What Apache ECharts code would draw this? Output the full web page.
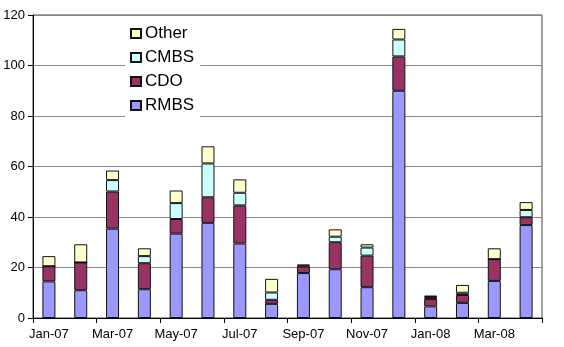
<!DOCTYPE html>
<html>
<head>
<meta charset="utf-8">
<script src="https://cdn.jsdelivr.net/npm/echarts@6/dist/echarts.min.js"></script>
<style>
html,body{margin:0;padding:0;background:#fff;}
#chart{width:564px;height:347px;}
</style>
</head>
<body>
<div id="chart"></div>
<script>
const categories = ['Jan-07','Feb-07','Mar-07','Apr-07','May-07','Jun-07','Jul-07','Aug-07','Sep-07','Oct-07','Nov-07','Dec-07','Jan-08','Feb-08','Mar-08','Apr-08'];
const rmbs  = [14.5, 11.0, 35.4, 11.4, 33.4, 37.7, 29.5, 5.6, 17.8, 19.3, 12.2, 90.0, 4.6, 6.0, 14.7, 36.8];
const cdo   = [6.0, 11.0, 14.7, 10.3, 5.8, 10.1, 15.1, 1.6, 2.6, 10.7, 12.5, 13.6, 2.9, 3.1, 8.6, 3.1];
const cmbs  = [0, 0, 4.5, 2.8, 6.3, 13.4, 5.0, 2.9, 0.3, 2.2, 3.2, 6.7, 0.8, 0.9, 0, 2.9];
const other = [4.0, 7.2, 3.8, 3.1, 5.0, 6.8, 5.3, 5.4, 0.5, 2.9, 1.3, 4.2, 0.6, 3.1, 4.3, 3.1];
const yTicks = [0, 20, 40, 60, 80, 100, 120];

const chart = echarts.init(document.getElementById('chart'), null, {renderer: 'canvas'});
const font = '"Liberation Sans", Arial, sans-serif';
function mk(name, data, color) {
  return {
    name: name, type: 'bar', stack: 'total', data: data, barWidth: 13,
    itemStyle: {color: color, borderColor: '#111', borderWidth: 1},
    emphasis: {disabled: true}
  };
}
chart.setOption({
  animation: false,
  backgroundColor: '#fff',
  textStyle: {fontFamily: font},
  grid: {left: 33, right: 22, top: 15, bottom: 29, show: true, borderColor: '#444', borderWidth: 1},
  legend: {
    orient: 'vertical', left: 125, top: 20,
    data: ['Other', 'CMBS', 'CDO', 'RMBS'],
    backgroundColor: '#fff', padding: [5, 6, 5, 5],
    itemWidth: 10, itemHeight: 9, itemGap: 7,
    icon: 'rect',
    textStyle: {fontSize: 17, lineHeight: 17, color: '#000', fontFamily: font, padding: [0, 0, 0, -1]}
  },
  xAxis: {
    type: 'category', data: categories, boundaryGap: true,
    axisLine: {lineStyle: {color: '#000', width: 1}},
    axisTick: {show: true, interval: 1, length: 5, lineStyle: {color: '#000'}},
    axisLabel: {interval: 1, color: '#000', fontSize: 13, margin: 10, fontFamily: font},
    splitLine: {show: false}
  },
  yAxis: {
    type: 'value', min: yTicks[0], max: yTicks[yTicks.length - 1], interval: 20,
    axisLine: {show: true, lineStyle: {color: '#000', width: 1}},
    axisTick: {show: true, length: 5, lineStyle: {color: '#000'}},
    axisLabel: {color: '#000', fontSize: 13, margin: 8, fontFamily: font},
    splitLine: {show: true, lineStyle: {color: '#888', width: 1}}
  },
  series: [
    mk('RMBS', rmbs, '#9999FF'),
    mk('CDO', cdo, '#993366'),
    mk('CMBS', cmbs, '#CCFFFF'),
    mk('Other', other, '#FFFFCC')
  ]
});
</script>
</body>
</html>
